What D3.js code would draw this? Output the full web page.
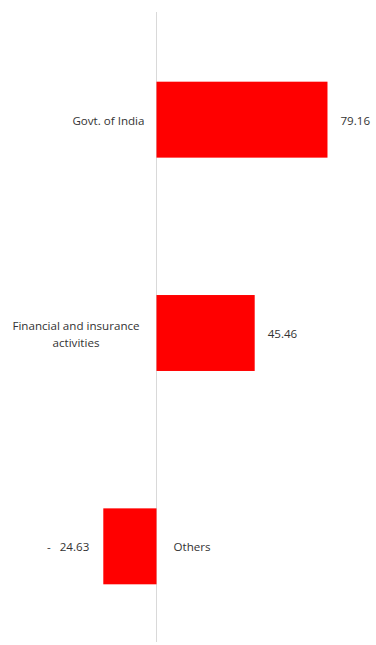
<!DOCTYPE html>
<html>
<head>
<meta charset="utf-8">
<script src="https://cdn.jsdelivr.net/npm/d3@7.9.0/dist/d3.min.js"></script>
<style>
  body { margin: 0; background: #fff; }
  text { font-family: "Open Sans", sans-serif; font-size: 11.6px; fill: #333; }
</style>
</head>
<body>
<svg id="chart" width="376" height="645"></svg>
<script>
const categories = ['Govt. of India', 'Financial and insurance activities', 'Others'];
const values = [79.16, 45.46, -24.63];
const labelLines = [['Govt. of India'], ['Financial and insurance', 'activities'], ['Others']];

const svg = d3.select('#chart');

const x = d3.scaleLinear().domain([0, 100]).range([156.5, 372.5]);
const y = d3.scaleBand()
  .domain(categories)
  .range([13, 653])
  .paddingInner(0.644)
  .paddingOuter(0.322);

// zero line
svg.append('line')
  .attr('x1', x(0)).attr('x2', x(0))
  .attr('y1', 12).attr('y2', 642)
  .attr('stroke', '#d9d9d9')
  .attr('stroke-width', 1);

categories.forEach((c, i) => {
  const v = values[i];
  const cy = y(c) + y.bandwidth() / 2;

  svg.append('rect')
    .attr('x', Math.min(x(0), x(v)))
    .attr('y', y(c))
    .attr('width', Math.abs(x(v) - x(0)))
    .attr('height', y.bandwidth())
    .attr('fill', '#ff0000');

  // category label, on the opposite side of the bar
  const lines = labelLines[i];
  const cat = svg.append('text')
    .attr('text-anchor', v >= 0 ? (lines.length > 1 ? 'middle' : 'end') : 'start')
    .attr('x', v >= 0 ? (lines.length > 1 ? 76 : x(0) - 12) : x(0) + 17)
    .attr('y', cy + 1 - (lines.length - 1) * 8.5)
    .attr('dy', '0.35em');
  lines.forEach((l, j) => {
    cat.append('tspan')
      .attr('x', cat.attr('x'))
      .attr('dy', j === 0 ? '0.35em' : '17px')
      .text(l);
  });

  // value label
  svg.append('text')
    .attr('text-anchor', v >= 0 ? 'start' : 'end')
    .attr('x', v >= 0 ? x(v) + 13 : x(v) - 14)
    .attr('y', cy + 1)
    .attr('dy', '0.35em')
    .text(v >= 0 ? d3.format('.2f')(v) : '-\u00a0\u00a0\u00a0' + d3.format('.2f')(-v));
});
</script>
</body>
</html>
